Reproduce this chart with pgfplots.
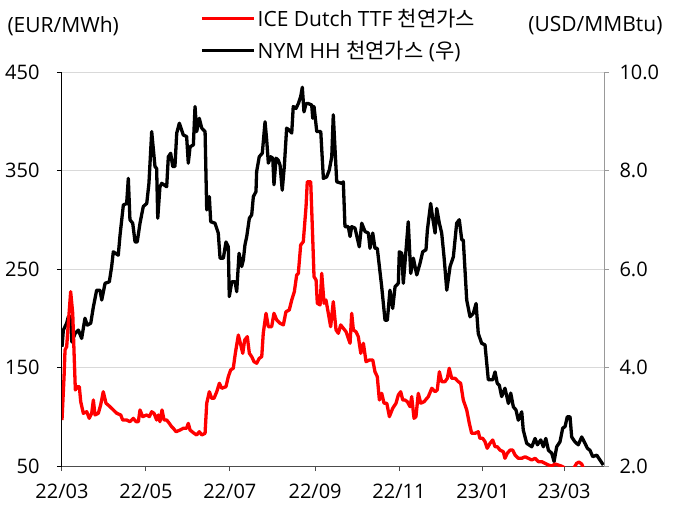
\documentclass[border=0pt]{standalone}
\usepackage{pgfplots}
\pgfplotsset{compat=1.18}
\usepackage{fontspec}
\setmainfont{Open Sans}
\newfontfamily\kr{Noto Sans CJK KR}
\newcommand\lbl{\fontsize{20}{24}\selectfont}
\newcommand\leg{\fontsize{21}{25}\selectfont}

\pgfplotstableread{
day usd
0 4.42
1 4.76
3.4 4.90
4.6 5.03
6.3 5.03
7.1 4.52
9.5 4.69
11.9 4.76
14.3 4.59
16.7 5.00
18.4 4.86
20.9 4.90
22.8 5.23
25.2 5.57
27.6 5.57
28.9 5.37
31.3 5.71
34.4 5.74
36.1 6.05
37.3 6.35
40.9 6.28
42.2 6.69
44.6 7.30
47.0 7.33
48.2 7.84
49.4 7.00
51.4 6.93
53.1 6.55
54.7 6.55
56.7 6.93
59.1 7.27
61.6 7.33
63.2 7.74
65.2 8.79
67.6 8.08
68.8 8.04
69.6 7.03
71.2 7.67
72.5 7.74
76.1 7.67
77.3 8.28
79.0 8.35
80.5 8.08
82.1 8.08
83.4 8.76
85.3 8.96
88.2 8.72
90.6 8.69
91.8 8.15
93.1 8.48
95.5 8.52
96.7 9.30
97.9 8.79
99.8 9.06
101.6 8.86
104.0 8.79
105.2 7.20
107.1 7.47
108.1 6.96
111.2 6.93
113.6 6.73
114.9 6.22
117.3 6.22
119.2 6.55
120.9 6.45
121.6 5.44
123.4 5.74
125.8 5.74
127.0 5.54
128.7 6.32
130.6 6.05
131.8 6.18
133.0 6.49
134.3 6.66
136.2 7.03
137.9 7.10
139.1 7.47
141.0 7.57
141.5 7.98
143.4 8.28
145.6 8.35
147.6 8.99
148.8 8.62
150.0 8.15
151.7 8.28
153.2 8.25
154.1 7.71
155.6 8.25
157.2 8.21
158.5 8.11
160.1 7.60
161.6 8.08
163.3 8.86
165.2 8.82
167.0 8.76
168.1 9.30
170.1 9.26
171.8 9.36
173.5 9.50
174.7 9.69
175.9 9.19
177.4 9.36
179.0 9.36
181.5 9.33
182.3 9.06
183.2 9.30
185.2 8.79
188.1 8.79
190.0 7.84
192.4 7.87
194.3 8.01
196.1 8.28
197.2 9.13
199.7 7.77
203.3 7.74
204.5 7.77
205.7 6.86
208.1 6.86
209.4 6.66
210.6 6.86
213.0 6.83
216.1 6.45
217.9 6.93
220.3 6.76
222.7 6.73
223.9 6.42
225.9 6.73
227.5 6.42
229.2 6.42
232.4 5.64
234.8 4.96
236.5 4.96
238.4 5.57
240.4 5.20
242.1 5.64
244.5 5.71
245.2 6.35
247.0 6.32
248.1 5.71
250.1 6.39
251.7 6.96
253.5 5.91
255.4 6.22
257.9 5.88
260.3 6.12
262.2 6.35
264.6 6.39
265.6 6.79
268.0 7.33
269.5 7.03
271.2 6.73
272.4 7.23
274.3 6.93
276.0 6.73
277.7 6.25
279.7 5.57
282.1 6.05
284.5 6.25
286.9 6.93
288.8 7.00
290.6 6.59
291.7 6.59
294.2 5.37
296.6 5.03
299.0 5.10
301.0 5.30
302.6 4.69
305.1 4.49
307.5 4.46
309.9 3.75
313.1 3.75
314.8 3.91
316.4 3.68
317.9 3.64
319.6 3.41
322.0 3.58
324.5 3.27
326.2 3.48
328.1 3.20
330.0 3.14
331.7 2.93
334.2 3.10
335.3 2.73
337.8 2.46
341.5 2.39
343.9 2.56
345.6 2.43
348.0 2.53
349.9 2.39
351.7 2.56
353.6 2.32
356.0 2.26
357.7 2.09
359.6 2.39
362.0 2.49
364.0 2.77
365.7 2.80
367.3 3.00
369.3 3.00
370.5 2.59
372.9 2.49
375.3 2.43
377.8 2.59
380.2 2.46
381.9 2.36
383.8 2.32
385.8 2.19
388.7 2.22
391.1 2.12
393.5 2.02
}\hh

\pgfplotstableread{
day eur
0 96.7
1.5 140.7
2.2 167.8
3.4 171.1
4.6 194.9
6.3 227.0
7.8 205.0
8.7 167.8
9.7 127.2
11.1 130.5
12.6 130.5
13.6 115.3
15.5 103.5
18.0 105.1
19.8 98.4
21.6 103.5
22.8 117.0
24.0 101.8
26.4 103.5
28.1 111.9
30.0 125.4
32.0 113.7
34.9 110.2
37.3 106.9
39.8 103.5
42.7 101.8
44.1 96.7
47.0 96.7
49.4 95.0
51.8 98.4
53.8 95.0
55.5 95.0
56.7 106.9
58.7 100.1
61.6 101.8
63.5 100.1
65.2 105.1
66.9 103.5
68.8 96.7
70.0 101.8
71.2 95.0
72.7 106.9
74.2 96.7
76.1 96.7
78.0 93.3
79.7 89.9
80.9 88.3
82.9 84.8
85.8 86.5
88.2 88.3
90.6 88.3
91.8 93.3
93.1 86.5
96.0 83.2
97.9 81.5
99.8 84.8
101.6 81.5
104.0 83.2
105.2 113.7
107.1 125.4
108.8 118.7
110.5 118.7
112.5 125.4
114.4 134.0
116.1 128.9
119.2 130.5
120.9 140.7
122.6 147.5
124.5 149.2
126.0 164.4
128.2 183.0
129.4 176.2
131.4 164.4
132.8 177.9
134.7 181.3
136.2 164.4
137.9 161.0
139.6 155.9
141.5 154.3
143.4 159.3
145.2 161.0
146.3 184.7
148.3 205.0
150.0 191.4
152.4 191.4
154.1 205.0
156.1 198.2
158.5 194.9
160.9 193.2
162.8 206.6
165.2 208.4
167.0 218.5
168.9 227.0
170.6 243.9
171.8 245.6
173.5 274.4
175.4 277.7
177.4 313.3
178.3 338.6
180.8 338.6
182.3 279.4
183.2 242.2
184.7 238.8
185.6 215.2
187.6 213.5
188.8 245.6
190.5 215.2
191.9 218.5
193.6 205.0
195.3 191.4
197.2 216.8
199.2 188.1
200.9 184.7
202.6 193.2
204.5 189.8
206.5 186.3
208.1 179.6
209.4 174.6
210.6 205.0
211.8 188.1
213.7 186.3
215.4 181.3
217.2 164.4
219.1 174.6
221.0 155.9
223.4 157.6
225.9 157.6
227.5 145.7
229.2 140.7
230.7 117.0
232.4 123.8
234.1 113.7
236.1 113.7
238.0 100.1
240.4 108.6
242.8 113.7
244.5 122.1
246.2 125.4
247.7 117.0
249.3 117.0
251.0 115.3
253.0 110.2
254.2 120.4
255.9 98.4
257.3 100.1
259.0 123.8
260.8 113.7
263.2 115.3
266.3 120.4
268.8 128.9
271.2 125.4
272.8 127.2
274.3 145.7
276.0 135.6
278.4 135.6
280.1 139.0
281.5 149.2
283.3 139.0
285.7 139.0
288.1 135.6
289.8 134.0
291.7 117.0
294.2 106.9
296.1 93.3
297.8 83.2
300.2 83.2
302.6 84.8
303.8 78.1
305.8 78.1
307.5 74.7
309.1 68.0
311.1 73.0
313.1 76.4
314.8 69.6
316.4 69.6
318.4 66.2
320.8 64.5
322.0 57.8
323.7 62.9
325.7 66.2
327.6 66.2
329.3 61.2
331.7 57.8
334.2 57.8
336.6 59.4
339.0 57.8
341.5 56.1
343.9 57.8
346.3 54.4
348.7 54.4
351.1 52.7
353.6 51.0
356.0 50.0
358.4 52.0
360.8 51.0
362.8 50.0
364.4 49.0
366.4 46
369.3 44
372.1 48
374.1 52.7
375.8 54
377.8 52
379.5 46
383.8 44
391.1 43
393.5 42
}\ttf

\begin{document}
\begin{tikzpicture}
\useasboundingbox (-62pt,-40pt) rectangle (615pt,466pt);

\pgfplotsset{
  base/.style={
    scale only axis, width=542pt, height=394pt,
    xmin=0, xmax=394,
    tick align=outside, major tick length=5pt,
    ticklabel style={font=\lbl},
    yticklabel style={/pgf/number format/assume math mode=true},
    xticklabel style={/pgf/number format/assume math mode=true},
  }
}

% right axis, NYM HH
\begin{axis}[base,
  ymin=2, ymax=10, ytick={2,4,...,10},
  axis x line=none, axis y line*=right,
  y axis line style={draw=black!40, line width=1pt},
  ytick style={draw=black!40, line width=1pt},
  ymajorgrids, grid style={draw=black!15, line width=1pt},
  yticklabel style={xshift=7pt, /pgf/number format/.cd, fixed, fixed zerofill, precision=1},
]
\addplot[black, line width=3.3pt, line join=round] table[x=day, y=usd] {\hh};
\end{axis}

% left axis, TTF
\begin{axis}[base, name=ttf,
  ymin=50, ymax=450, ytick={50,150,...,450},
  axis x line*=bottom, axis y line*=left,
  y axis line style={draw=black, line width=1pt},
  x axis line style={draw=black!70, line width=1pt},
  ytick style={draw=black, line width=1pt},
  xtick style={draw=black!70, line width=1pt},
  yticklabel style={xshift=-14pt},
  xticklabel style={yshift=-9pt},
  xtick={0,61,122,184,245,306,365},
  xticklabels={22/03,22/05,22/07,22/09,22/11,23/01,23/03},
  legend image code/.code={\draw[#1] (0pt,0pt) -- (52pt,0pt);},
  legend style={at={(0.2546,1)}, anchor=south west, yshift=10pt,
    draw=none, fill=none, inner sep=0pt, row sep=9pt,
    font=\leg, cells={anchor=west}},
]
\addplot[red, line width=3.3pt, line join=round] table[x=day, y=eur] {\ttf};
\addlegendentry{ICE Dutch TTF {\kr 천연가스}}
\addlegendimage{black, line width=3.5pt}
\addlegendentry{NYM HH {\kr 천연가스} ({\kr 우})}
\end{axis}
\node[font=\fontsize{21}{25}\selectfont, anchor=west] at (ttf.north west) [xshift=-58pt, yshift=46pt] {(EUR/MWh)};
\node[font=\fontsize{21}{25}\selectfont, anchor=east] at (ttf.north east) [xshift=62pt, yshift=46pt] {(USD/MMBtu)};
\end{tikzpicture}
\end{document}
